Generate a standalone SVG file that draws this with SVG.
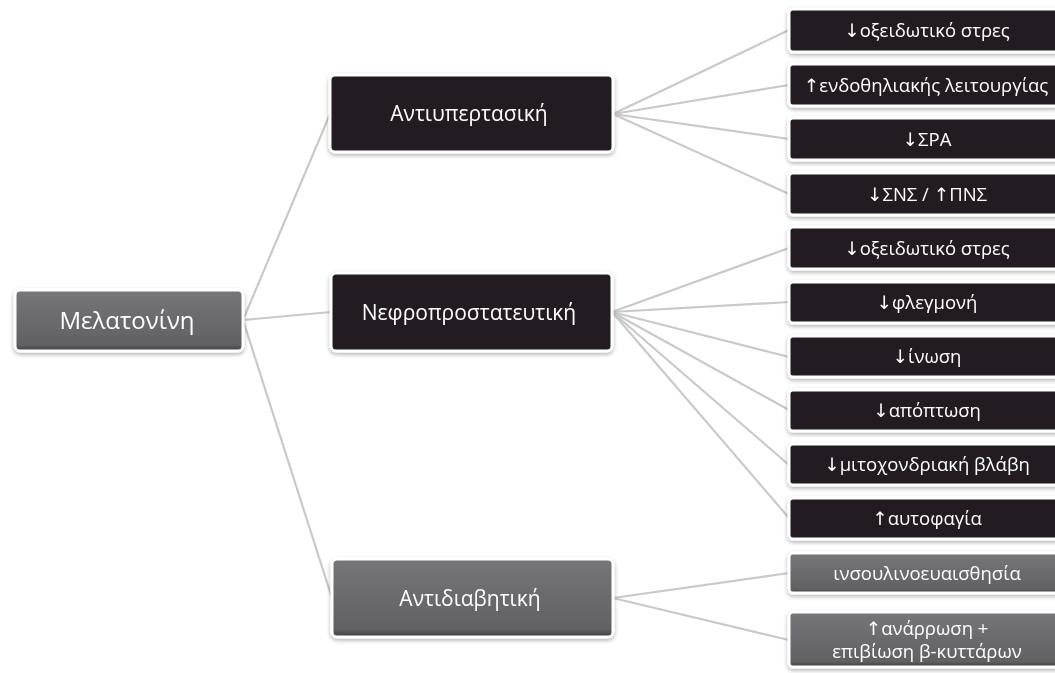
<svg xmlns="http://www.w3.org/2000/svg" width="1055" height="673" viewBox="0 0 1055 673">
<style>
.lbl{font-family:"Open Sans","Noto Sans","DejaVu Sans",sans-serif;fill:#ffffff;text-anchor:middle}
.big{font-size:24px}
.mid{font-size:21px}
.sm{font-size:18.5px}
.dark{fill:#231f20;stroke:#ffffff;stroke-width:3}
.gray{fill:url(#gg);stroke:#ffffff;stroke-width:3}
.conn line{stroke:#c9c9c9;stroke-width:2.2;fill:none}
</style>
<defs>
<linearGradient id="gg" x1="0" y1="0" x2="0" y2="1">
<stop offset="0" stop-color="#767679"/>
<stop offset="0.9" stop-color="#616164"/>
<stop offset="1" stop-color="#3c3c3e"/>
</linearGradient>
<filter id="sh" x="-10%" y="-20%" width="120%" height="150%">
<feDropShadow dx="0" dy="2" stdDeviation="2" flood-color="#000000" flood-opacity="0.3"/>
</filter>
</defs>
<rect width="1055" height="673" fill="#ffffff"/>
<g id="connectors" class="conn">
<line x1="243" y1="320" x2="330" y2="114"/>
<line x1="243" y1="320" x2="331" y2="312"/>
<line x1="243" y1="320" x2="332" y2="598"/>
<line x1="613" y1="114" x2="789" y2="30"/>
<line x1="613" y1="114" x2="789" y2="85"/>
<line x1="613" y1="114" x2="789" y2="139"/>
<line x1="613" y1="114" x2="789" y2="194"/>
<line x1="612" y1="312" x2="789" y2="248"/>
<line x1="612" y1="312" x2="789" y2="302"/>
<line x1="612" y1="312" x2="789" y2="357"/>
<line x1="612" y1="312" x2="789" y2="410"/>
<line x1="612" y1="312" x2="789" y2="465"/>
<line x1="612" y1="312" x2="789" y2="518"/>
<line x1="613" y1="598" x2="789" y2="573"/>
<line x1="613" y1="598" x2="789" y2="640"/>
</g>
<g id="n-melatonini" filter="url(#sh)">
<rect class="gray" x="15" y="290" width="228" height="61" rx="5"/>
<text class="lbl big" x="127" y="329">Μελατονίνη</text>
</g>
<g id="n-antiypertasiki" filter="url(#sh)">
<rect class="dark" x="330" y="75" width="283" height="77" rx="5"/>
<text class="lbl mid" x="469" y="121">Αντιυπερτασική</text>
</g>
<g id="n-nefro" filter="url(#sh)">
<rect class="dark" x="331" y="273" width="281" height="78" rx="5"/>
<text class="lbl mid" x="469" y="320">Νεφροπροστατευτική</text>
</g>
<g id="n-antidiav" filter="url(#sh)">
<rect class="gray" x="332" y="559" width="281" height="78" rx="5"/>
<text class="lbl mid" x="470" y="606">Αντιδιαβητική</text>
</g>
<g id="r1" filter="url(#sh)">
<rect class="dark" x="789" y="9" width="272" height="43" rx="4"/>
<text class="lbl sm" x="927" y="37">↓οξειδωτικό στρες</text>
</g>
<g id="r2" filter="url(#sh)">
<rect class="dark" x="789" y="64" width="272" height="42" rx="4"/>
<text class="lbl sm" x="926" y="92">↑ενδοθηλιακής λειτουργίας</text>
</g>
<g id="r3" filter="url(#sh)">
<rect class="dark" x="789" y="118" width="272" height="42" rx="4"/>
<text class="lbl sm" x="927" y="146">↓ΣΡΑ</text>
</g>
<g id="r4" filter="url(#sh)">
<rect class="dark" x="789" y="173" width="272" height="42" rx="4"/>
<text class="lbl sm" x="927" y="201">↓ΣΝΣ / ↑ΠΝΣ</text>
</g>
<g id="r5" filter="url(#sh)">
<rect class="dark" x="789" y="227" width="272" height="42" rx="4"/>
<text class="lbl sm" x="927" y="255">↓οξειδωτικό στρες</text>
</g>
<g id="r6" filter="url(#sh)">
<rect class="dark" x="789" y="282" width="272" height="41" rx="4"/>
<text class="lbl sm" x="927" y="309">↓φλεγμονή</text>
</g>
<g id="r7" filter="url(#sh)">
<rect class="dark" x="789" y="336" width="272" height="41" rx="4"/>
<text class="lbl sm" x="927" y="363">↓ίνωση</text>
</g>
<g id="r8" filter="url(#sh)">
<rect class="dark" x="789" y="390" width="272" height="41" rx="4"/>
<text class="lbl sm" x="927" y="417">↓απόπτωση</text>
</g>
<g id="r9" filter="url(#sh)">
<rect class="dark" x="789" y="444" width="272" height="41" rx="4"/>
<text class="lbl sm" x="927" y="471">↓μιτοχονδριακή βλάβη</text>
</g>
<g id="r10" filter="url(#sh)">
<rect class="dark" x="789" y="498" width="272" height="41" rx="4"/>
<text class="lbl sm" x="927" y="525">↑αυτοφαγία</text>
</g>
<g id="r11" filter="url(#sh)">
<rect class="gray" x="789" y="553" width="272" height="40" rx="4"/>
<text class="lbl sm" x="927" y="580">ινσουλινοευαισθησία</text>
</g>
<g id="r12" filter="url(#sh)">
<rect class="gray" x="789" y="612" width="272" height="55" rx="4"/>
<text class="lbl sm" x="927" y="635">↑ανάρρωση +</text>
<text class="lbl sm" x="927" y="658">επιβίωση β-κυττάρων</text>
</g>
</svg>
